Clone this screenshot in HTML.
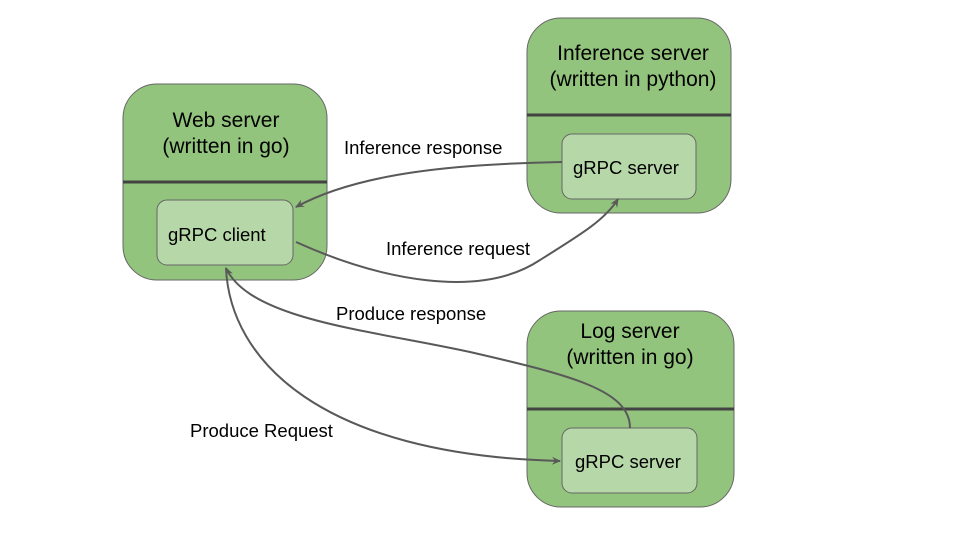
<!DOCTYPE html>
<html><head><style>body{margin:0;background:#fff}</style></head><body>
<svg width="960" height="540" xmlns="http://www.w3.org/2000/svg" font-family="Liberation Sans, sans-serif">
<defs><marker id="a" markerWidth="10" markerHeight="10" refX="8" refY="5" orient="auto" markerUnits="userSpaceOnUse"><path d="M0,1 L9,5 L0,9 L3,5 z" fill="#595959"/></marker></defs>
<rect width="960" height="540" fill="#fff"/>
<g stroke="#666" stroke-width="1">
<rect x="123" y="84" width="204" height="196" rx="34" fill="#93c47d"/>
<rect x="527" y="18" width="204" height="195" rx="34" fill="#93c47d"/>
<rect x="527" y="311" width="207" height="196" rx="34" fill="#93c47d"/>
<rect x="157" y="200" width="136" height="65" rx="10" fill="#b6d7a8"/>
<rect x="562" y="134" width="134" height="65" rx="10" fill="#b6d7a8"/>
<rect x="562" y="428" width="135" height="65" rx="10" fill="#b6d7a8"/>
</g>
<g stroke="#434343" stroke-width="3">
<line x1="123" y1="182" x2="327" y2="182"/><line x1="527" y1="115" x2="731" y2="115"/><line x1="527" y1="409" x2="734" y2="409"/>
</g>
<g fill="none" stroke="#595959" stroke-width="2" marker-end="url(#a)">
<path d="M562,162 C460,164 360,172 296,207"/>
<path d="M296,242 C380,280 480,300 540,260 C580,235 605,220 618,199"/>
<path d="M630,428 C630,390 570,375 470,352 C370,330 250,320 226,268"/>
<path d="M226,268 C230,360 320,455 560,461"/>
</g>
<g fill="#000" font-size="21" text-anchor="middle">
<text x="226" y="127">Web server</text><text x="226" y="153">(written in go)</text>
<text x="633" y="60">Inference server</text><text x="633" y="86">(written in python)</text>
<text x="630" y="338">Log server</text><text x="630" y="364">(written in go)</text>
</g>
<g fill="#000" font-size="18.5">
<text x="168" y="241">gRPC client</text>
<text x="573" y="174">gRPC server</text>
<text x="575" y="468">gRPC server</text>
<text x="344" y="154">Inference response</text>
<text x="386" y="255">Inference request</text>
<text x="336" y="320">Produce response</text>
<text x="190" y="437">Produce Request</text>
</g>
</svg>
</body></html>
